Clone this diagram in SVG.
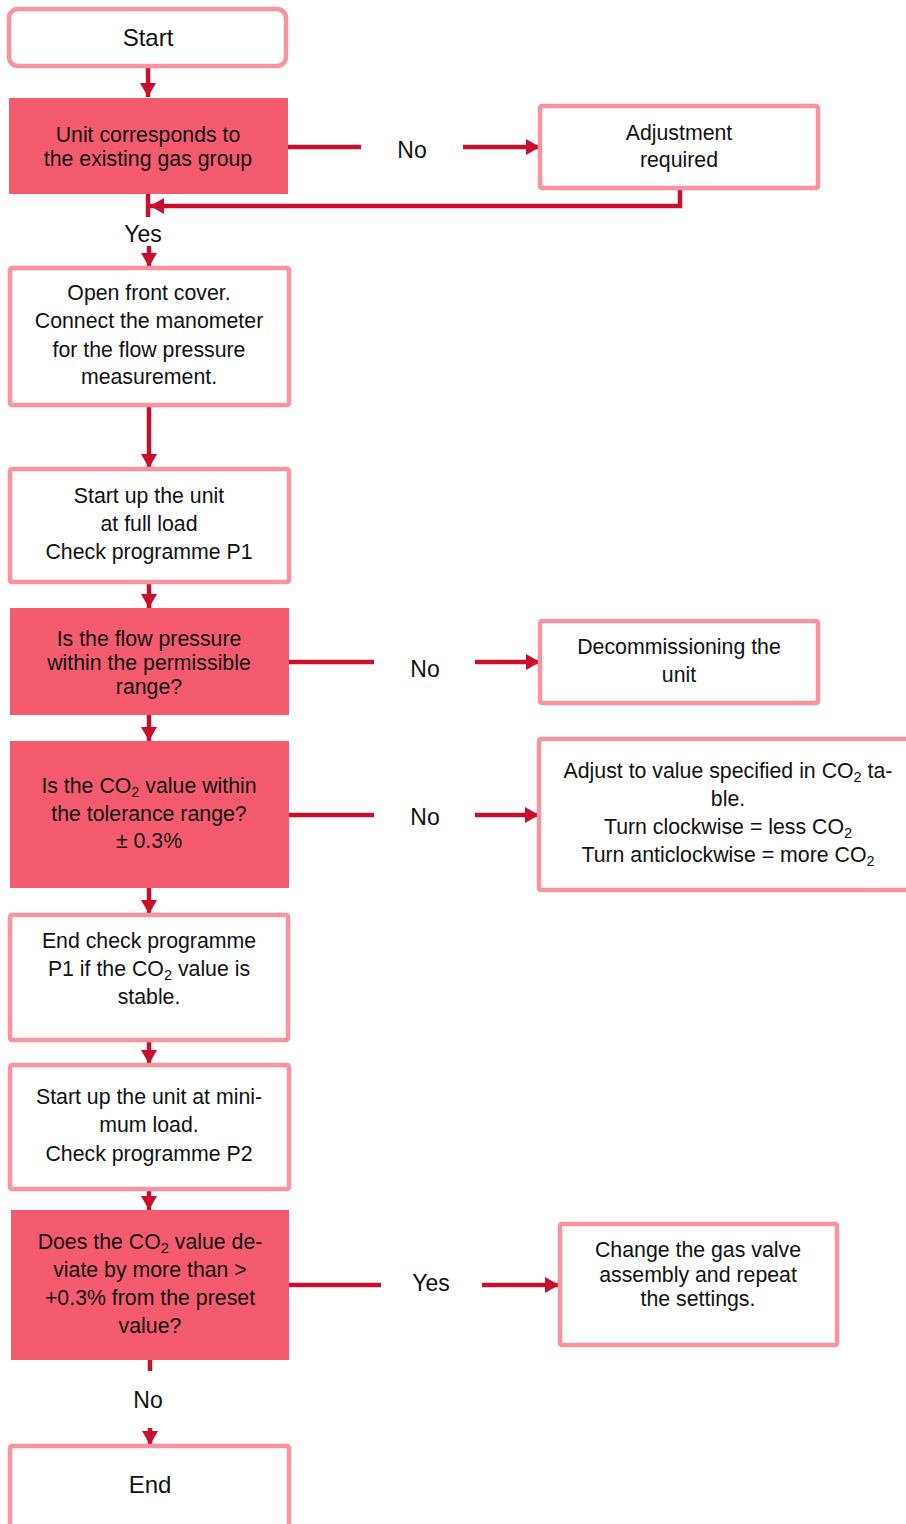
<svg xmlns="http://www.w3.org/2000/svg" width="906" height="1524" viewBox="0 0 906 1524">
  <style>
    text { font-family: "Liberation Sans", Arial, sans-serif; font-size: 21.3px; fill: #111; text-anchor: middle; }
    .big { font-size: 24px; }
    .lbl { font-size: 23px; }
    .box { fill: #fff; stroke: #F8939F; stroke-width: 4.5; }
    .dec { fill: #F45B6F; }
    .con { fill: none; stroke: #C8102E; stroke-width: 4.5; }
    .arr { fill: none; stroke: #C8102E; stroke-width: 4.5; marker-end: url(#head); }
  </style>
  <defs>
    <marker id="head" markerUnits="userSpaceOnUse" markerWidth="16" markerHeight="16" refX="14" refY="8" orient="auto">
      <path d="M0,0 L14,8 L0,16 z" fill="#C8102E"/>
    </marker>
  </defs>

  <g id="connectors">
    <line class="arr" x1="148" y1="67" x2="148" y2="97"/>
    <line class="con" x1="288" y1="147" x2="361" y2="147"/>
    <line class="arr" x1="463" y1="147" x2="540" y2="147"/>
    <path class="arr" d="M680,189 V206 H150"/>
    <line class="con" x1="148" y1="194" x2="148" y2="217"/>
    <line class="arr" x1="149" y1="246" x2="149" y2="267"/>
    <line class="arr" x1="149" y1="406" x2="149" y2="468"/>
    <line class="arr" x1="149" y1="583" x2="149" y2="608"/>
    <line class="con" x1="289" y1="662" x2="374" y2="662"/>
    <line class="arr" x1="475" y1="662" x2="540" y2="662"/>
    <line class="arr" x1="149" y1="715" x2="149" y2="741"/>
    <line class="con" x1="289" y1="815" x2="374" y2="815"/>
    <line class="arr" x1="475" y1="815" x2="539" y2="815"/>
    <line class="arr" x1="149" y1="888" x2="149" y2="914"/>
    <line class="arr" x1="149" y1="1041" x2="149" y2="1064"/>
    <line class="arr" x1="149" y1="1190" x2="149" y2="1210"/>
    <line class="con" x1="289" y1="1285" x2="381" y2="1285"/>
    <line class="arr" x1="482" y1="1285" x2="559" y2="1285"/>
    <line class="con" x1="150" y1="1360" x2="150" y2="1371"/>
    <line class="arr" x1="150" y1="1428" x2="150" y2="1445"/>
    <text class="lbl" x="412" y="158">No</text>
    <text class="lbl" x="143" y="242">Yes</text>
    <text class="lbl" x="425" y="677">No</text>
    <text class="lbl" x="425" y="825">No</text>
    <text class="lbl" x="431" y="1291">Yes</text>
    <text class="lbl" x="148" y="1408">No</text>
  </g>

  <g id="start">
    <rect class="box" x="9" y="9" width="277" height="57" rx="9"/>
    <text class="big" x="148" y="46">Start</text>
  </g>

  <g id="gas-group">
    <rect class="dec" x="9" y="98" width="279" height="96"/>
    <text x="148" y="142">Unit corresponds to</text>
    <text x="148" y="166">the existing gas group</text>
  </g>

  <g id="adjustment">
    <rect class="box" x="540" y="106" width="278" height="82" rx="2"/>
    <text x="679" y="140">Adjustment</text>
    <text x="679" y="167">required</text>
  </g>

  <g id="manometer">
    <rect class="box" x="10" y="268" width="279" height="137" rx="2"/>
    <text x="149" y="300">Open front cover.</text>
    <text x="149" y="328">Connect the manometer</text>
    <text x="149" y="357">for the flow pressure</text>
    <text x="149" y="384">measurement.</text>
  </g>

  <g id="full-load">
    <rect class="box" x="10" y="469" width="279" height="113" rx="2"/>
    <text x="149" y="503">Start up the unit</text>
    <text x="149" y="531">at full load</text>
    <text x="149" y="559">Check programme P1</text>
  </g>

  <g id="flow-pressure">
    <rect class="dec" x="10" y="608" width="279" height="107"/>
    <text x="149" y="646">Is the flow pressure</text>
    <text x="149" y="670">within the permissible</text>
    <text x="149" y="694">range?</text>
  </g>

  <g id="decommissioning">
    <rect class="box" x="540" y="621" width="278" height="82" rx="2"/>
    <text x="679" y="654">Decommissioning the</text>
    <text x="679" y="682">unit</text>
  </g>

  <g id="co2-tolerance">
    <rect class="dec" x="10" y="741" width="279" height="147"/>
    <text x="149" y="793">Is the CO<tspan font-size="14.5" dy="4">2</tspan><tspan dy="-4"> value within</tspan></text>
    <text x="149" y="821">the tolerance range?</text>
    <text x="149" y="848">± 0.3%</text>
  </g>

  <g id="adjust-co2">
    <rect class="box" x="539" y="739" width="380" height="151" rx="2"/>
    <text x="728" y="778">Adjust to value specified in CO<tspan font-size="14.5" dy="4">2</tspan><tspan dy="-4"> ta-</tspan></text>
    <text x="728" y="806">ble.</text>
    <text x="728" y="834">Turn clockwise = less CO<tspan font-size="14.5" dy="4">2</tspan></text>
    <text x="728" y="862">Turn anticlockwise = more CO<tspan font-size="14.5" dy="4">2</tspan></text>
  </g>

  <g id="end-check">
    <rect class="box" x="10" y="915" width="278" height="125" rx="2"/>
    <text x="149" y="948">End check programme</text>
    <text x="149" y="976">P1 if the CO<tspan font-size="14.5" dy="4">2</tspan><tspan dy="-4"> value is</tspan></text>
    <text x="149" y="1004">stable.</text>
  </g>

  <g id="minimum-load">
    <rect class="box" x="10" y="1065" width="279" height="124" rx="2"/>
    <text x="149" y="1104">Start up the unit at mini-</text>
    <text x="149" y="1132">mum load.</text>
    <text x="149" y="1161">Check programme P2</text>
  </g>

  <g id="co2-deviation">
    <rect class="dec" x="11" y="1210" width="278" height="150"/>
    <text x="150" y="1249">Does the CO<tspan font-size="14.5" dy="4">2</tspan><tspan dy="-4"> value de-</tspan></text>
    <text x="150" y="1277">viate by more than &gt;</text>
    <text x="150" y="1305">+0.3% from the preset</text>
    <text x="150" y="1333">value?</text>
  </g>

  <g id="gas-valve">
    <rect class="box" x="560" y="1224" width="277" height="121" rx="2"/>
    <text x="698" y="1257">Change the gas valve</text>
    <text x="698" y="1282">assembly and repeat</text>
    <text x="698" y="1306">the settings.</text>
  </g>

  <g id="end">
    <rect class="box" x="10" y="1446" width="279" height="90" rx="2"/>
    <text class="big" x="150" y="1493">End</text>
  </g>
</svg>
